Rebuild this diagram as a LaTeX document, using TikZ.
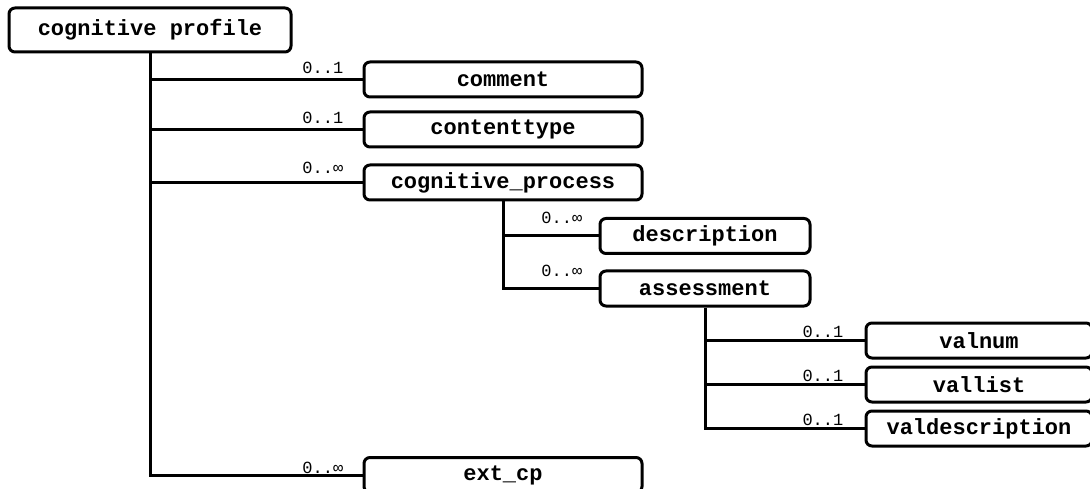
\documentclass[tikz,border=0pt]{standalone}
\usepackage{fontspec}
\newfontfamily\elemfont{Liberation Mono}
\newfontfamily\cardfont{Liberation Mono}
\begin{document}
\begin{tikzpicture}[x=1pt,y=-1pt,
  elem/.style={draw, line width=3pt, rounded corners=6pt, minimum height=35pt,
    inner sep=0pt, font=\elemfont\bfseries\fontsize{22}{22}\selectfont},
  link/.style={line width=3pt},
  card/.style={anchor=base east, inner sep=0pt, font=\cardfont\fontsize{17}{17}\selectfont}]
\useasboundingbox (0,0) rectangle (1090,489);

% element boxes
\node[elem, minimum width=282pt, minimum height=44pt] (root) at (150,30) {cognitive profile};
\node[elem, minimum width=278pt] (comment) at (503,79.5) {comment};
\node[elem, minimum width=278pt] (ctype) at (503,129.5) {contenttype};
\node[elem, minimum width=278pt] (cproc) at (503,182.5) {cognitive\_process};
\node[elem, minimum width=210pt] (desc) at (705,236) {description};
\node[elem, minimum width=210pt] (assess) at (705,288.5) {assessment};
\node[elem, minimum width=226pt] (valnum) at (979,340.5) {valnum};
\node[elem, minimum width=226pt] (vallist) at (979,384.5) {vallist};
\node[elem, minimum width=226pt] (valdesc) at (979,428.5) {valdescription};
\node[elem, minimum width=278pt] (extcp) at (503,475) {ext\_cp};

% tree connectors
\draw[link] (root.south) |- (extcp.west);
\draw[link] (root.south |- comment.west) -- (comment.west);
\draw[link] (root.south |- ctype.west) -- (ctype.west);
\draw[link] (root.south |- cproc.west) -- (cproc.west);
\draw[link] (cproc.south) |- (assess.west);
\draw[link] (cproc.south |- desc.west) -- (desc.west);
\draw[link] (assess.south) |- (valdesc.west);
\draw[link] (assess.south |- valnum.west) -- (valnum.west);
\draw[link] (assess.south |- vallist.west) -- (vallist.west);

% cardinalities
\node[card] (c1) at ([xshift=-19pt,yshift=6pt]comment.west) {0..1};
\node[card] (c2) at ([xshift=-19pt,yshift=6pt]ctype.west) {0..1};
\node[card] (c3) at ([xshift=-19pt,yshift=9pt]cproc.west) {0..∞};
\node[card] (c4) at ([xshift=-16pt,yshift=12pt]desc.west) {0..∞};
\node[card] (c5) at ([xshift=-16pt,yshift=12pt]assess.west) {0..∞};
\node[card] (c6) at ([xshift=-21pt,yshift=3pt]valnum.west) {0..1};
\node[card] (c7) at ([xshift=-21pt,yshift=3pt]vallist.west) {0..1};
\node[card] (c8) at ([xshift=-21pt,yshift=3pt]valdesc.west) {0..1};
\node[card] (c9) at ([xshift=-19pt,yshift=2pt]extcp.west) {0..∞};
\end{tikzpicture}
\end{document}
